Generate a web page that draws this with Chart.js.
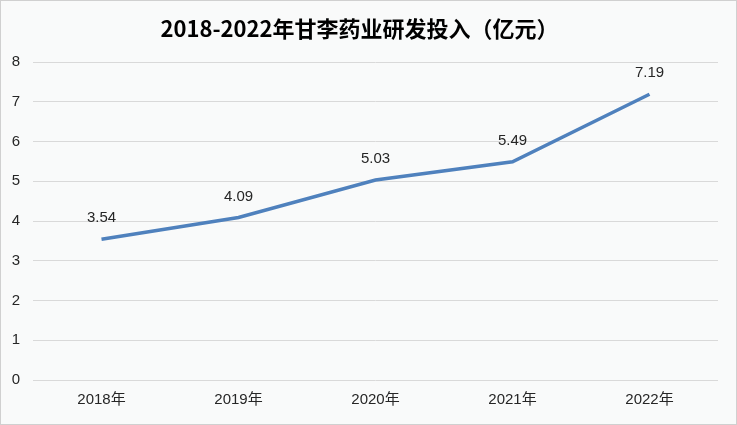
<!DOCTYPE html>
<html>
<head>
<meta charset="utf-8">
<script src="https://cdn.jsdelivr.net/npm/chart.js@4/dist/chart.umd.min.js"></script>
<style>
  html, body { margin: 0; padding: 0; background: #ffffff; }
  #wrap { position: relative; width: 737px; height: 425px; box-sizing: border-box; border: 1px solid #d0d0d0; background: #f9fafa; }
  canvas { display: block; }
</style>
</head>
<body>
<div id="wrap"><canvas id="c" width="735" height="423"></canvas></div>
<script>
const chartTitle = '2018-2022年甘李药业研发投入（亿元）';
const categories = ['2018年', '2019年', '2020年', '2021年', '2022年'];
const rdInvestment = [3.54, 4.09, 5.03, 5.49, 7.19];
const yTicks = [0, 1, 2, 3, 4, 5, 6, 7, 8];

const FONT = "'Liberation Sans', 'Noto Sans CJK SC', sans-serif";

const dataLabels = {
  id: 'dataLabels',
  afterDatasetsDraw(chart) {
    const ctx = chart.ctx;
    const meta = chart.getDatasetMeta(0);
    ctx.save();
    ctx.font = '15px ' + FONT;
    ctx.fillStyle = '#262626';
    ctx.textAlign = 'center';
    ctx.textBaseline = 'middle';
    meta.data.forEach((pt, i) => {
      ctx.fillText(rdInvestment[i].toFixed(2), pt.x, pt.y - 21);
    });
    ctx.restore();
  }
};

new Chart(document.getElementById('c'), {
  type: 'line',
  data: {
    labels: categories,
    datasets: [{
      data: rdInvestment,
      borderColor: '#4f81bd',
      borderWidth: 3.5,
      pointRadius: 0,
      pointHoverRadius: 0,
      tension: 0,
      fill: false,
      borderCapStyle: 'butt'
    }]
  },
  options: {
    responsive: false,
    animation: false,
    layout: { padding: { top: 0, right: 18, left: 0, bottom: 0 } },
    plugins: {
      legend: { display: false },
      tooltip: { enabled: false },
      title: {
        display: true,
        text: chartTitle,
        color: '#000000',
        font: { family: "'Noto Sans CJK SC', sans-serif", size: 22, weight: 'bold', lineHeight: 1.2 },
        padding: { top: 14, bottom: 20.6 },
        position: 'top',
        fullSize: true
      }
    },
    scales: {
      x: {
        offset: true,
        grid: { display: false, drawTicks: false },
        border: { display: false },
        ticks: { color: '#262626', font: { family: FONT, size: 15 }, padding: 11, maxRotation: 0 },
        afterFit(s) { s.height = 44; }
      },
      y: {
        min: 0, max: 8,
        afterBuildTicks(s) { s.ticks = yTicks.map(v => ({ value: v })); },
        grid: { color: '#d9d9d9', lineWidth: 1, drawTicks: false },
        border: { display: false },
        ticks: { color: '#262626', font: { family: FONT, size: 15 }, padding: 13, align: 'center', crossAlign: 'center' },
        afterFit(s) { s.width = 32; }
      }
    }
  },
  plugins: [dataLabels]
});
</script>
</body>
</html>
